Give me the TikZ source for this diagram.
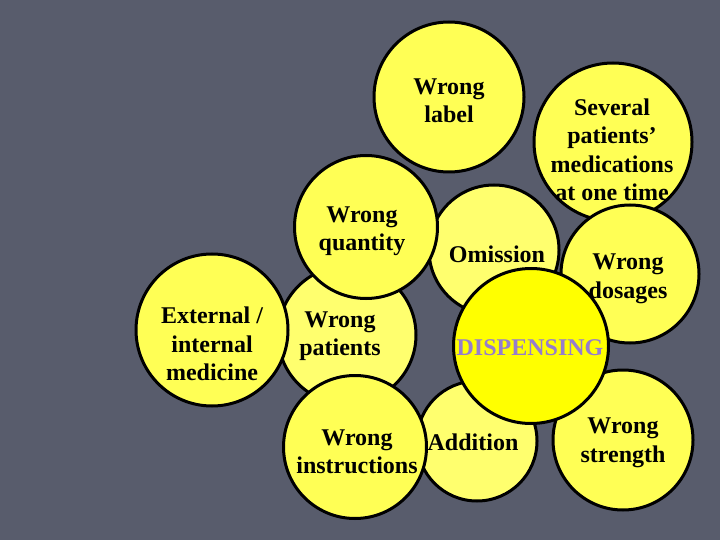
\documentclass[tikz,border=0pt]{standalone}
\usepackage{fontspec}
\setmainfont{Liberation Serif}
\definecolor{slidegrey}{RGB}{88,92,108}
\definecolor{bubbleyellow}{RGB}{255,255,85}
\definecolor{palebubble}{RGB}{255,255,110}
\definecolor{hubyellow}{RGB}{255,255,0}
\definecolor{hubviolet}{RGB}{150,125,205}

\begin{document}
\begin{tikzpicture}[x=1pt, y=-1pt,
    bubble/.style={circle, draw=black, line width=3pt, fill=bubbleyellow,
        inner sep=0pt, minimum size=#1},
    bubbletext/.style={align=center, inner sep=0pt, text=black,
        font=\fontsize{24}{28.5}\selectfont\bfseries}]
        % Hintergrund
        \fill[slidegrey] (0,0) rectangle (720,540);
        \useasboundingbox (0,0) rectangle (720,540);

        % Kreise, hinten nach vorne
        \node[bubble=158pt] (cseveral) at (613,142) {};
        \node[bubble=138pt] (cdosages) at (630,274) {};
        \node[bubble=150pt] (clabel) at (449,97) {};
        \node[bubble=130pt, fill=palebubble] (comission) at (494,250) {};
        \node[bubble=120pt, fill=palebubble] (caddition) at (477,441) {};
        \node[bubble=140pt] (cstrength) at (623,440) {};
        \node[bubble=138pt, fill=palebubble] (cpatients) at (347,335) {};
        \node[bubble=143pt] (cquantity) at (366,227) {};
        \node[bubble=152pt] (cexternal) at (212,330) {};
        \node[bubble=143pt] (cinstructions) at (355,447) {};
        \node[bubble=155pt, fill=hubyellow] (chub) at (531,346) {};

        % Beschriftungen
        \node[bubbletext] (tlabel) at (449,101) {Wrong\\label};
        \node[bubbletext] (tseveral) at (612,150) {Several\\patients’\\medications\\at one time};
        \node[bubbletext] (tquantity) at (362,231) {Wrong\\quantity};
        \node[bubbletext] (tomission) at (497,254) {Omission};
        \node[bubbletext] (tdosages) at (628,279) {Wrong\\dosages};
        \node[bubbletext] (texternal) at (212,344) {External /\\internal\\medicine};
        \node[bubbletext] (tpatients) at (340,336) {Wrong\\patients};
        \node[bubbletext, text=hubviolet] (thub) at (530,348) {DISPENSING};
        \node[bubbletext] (tinstructions) at (357,452) {Wrong\\instructions};
        \node[bubbletext] (taddition) at (473,442) {Addition};
        \node[bubbletext] (tstrength) at (623,443) {Wrong\\strength};
    \end{tikzpicture}
\end{document}
